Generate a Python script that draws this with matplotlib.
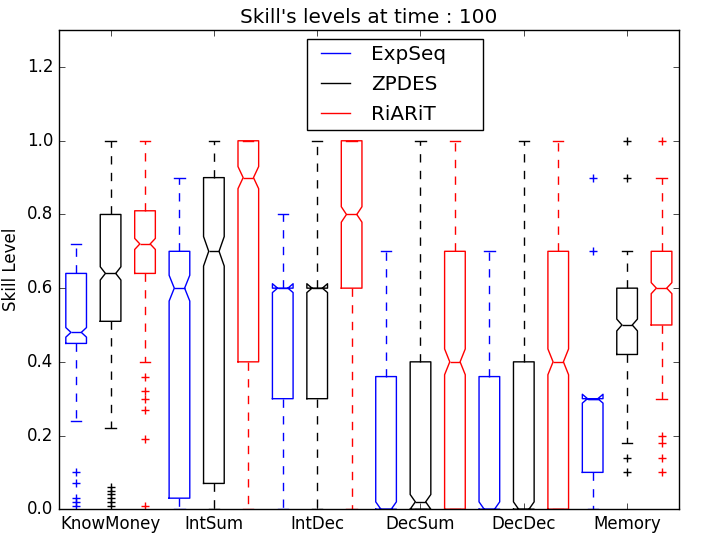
import matplotlib
matplotlib.use("Agg")
import matplotlib.pyplot as plt
from matplotlib.lines import Line2D
from matplotlib.legend_handler import HandlerLine2D

plt.style.use('classic')
plt.rcParams['figure.facecolor'] = 'white'
plt.rcParams['savefig.facecolor'] = 'white'
plt.rcParams['font.family'] = ['DejaVu Sans']

categories = ["KnowMoney", "IntSum", "IntDec", "DecSum", "DecDec", "Memory"]
series = ["ExpSeq", "ZPDES", "RiARiT"]
colors = ["b", "k", "r"]

# per series, per category: medians, quartiles, whiskers, notch bounds, fliers
med = {
    "ExpSeq": [0.48, 0.60, 0.60, 0.00, 0.00, 0.30],
    "ZPDES":  [0.64, 0.70, 0.60, 0.02, 0.00, 0.50],
    "RiARiT": [0.72, 0.90, 0.80, 0.40, 0.40, 0.60],
}
q1 = {
    "ExpSeq": [0.45, 0.03, 0.30, 0.00, 0.00, 0.10],
    "ZPDES":  [0.51, 0.07, 0.30, 0.00, 0.00, 0.42],
    "RiARiT": [0.64, 0.40, 0.60, 0.00, 0.00, 0.50],
}
q3 = {
    "ExpSeq": [0.64, 0.70, 0.60, 0.36, 0.36, 0.30],
    "ZPDES":  [0.80, 0.90, 0.60, 0.40, 0.40, 0.60],
    "RiARiT": [0.81, 1.00, 1.00, 0.70, 0.70, 0.70],
}
whislo = {
    "ExpSeq": [0.24, 0.00, 0.00, 0.00, 0.00, 0.00],
    "ZPDES":  [0.22, 0.00, 0.00, 0.00, 0.00, 0.18],
    "RiARiT": [0.40, 0.00, 0.00, 0.00, 0.00, 0.30],
}
whishi = {
    "ExpSeq": [0.72, 0.90, 0.80, 0.70, 0.70, 0.30],
    "ZPDES":  [1.00, 1.00, 1.00, 1.00, 1.00, 0.70],
    "RiARiT": [1.00, 1.00, 1.00, 1.00, 1.00, 0.90],
}
cilo = {
    "ExpSeq": [0.467, 0.565, 0.588, -0.02, -0.02, 0.288],
    "ZPDES":  [0.622, 0.660, 0.588, 0.00, -0.02, 0.484],
    "RiARiT": [0.705, 0.870, 0.779, 0.365, 0.365, 0.585],
}
cihi = {
    "ExpSeq": [0.493, 0.635, 0.612, 0.02, 0.02, 0.312],
    "ZPDES":  [0.658, 0.740, 0.612, 0.04, 0.02, 0.516],
    "RiARiT": [0.735, 0.930, 0.821, 0.435, 0.435, 0.615],
}
fliers = {
    "ExpSeq": [[0.10, 0.07, 0.03, 0.02, 0.01], [], [], [], [], [0.90, 0.70]],
    "ZPDES":  [[0.06, 0.05, 0.04, 0.03, 0.02, 0.01], [], [], [], [], [1.00, 0.90, 0.14, 0.10]],
    "RiARiT": [[0.36, 0.32, 0.30, 0.27, 0.19, 0.01], [], [], [], [], [1.00, 0.20, 0.18, 0.14, 0.10]],
}

fig = plt.figure(figsize=(7.1, 5.4), dpi=100)
ax = fig.add_axes([0.083, 0.057, 0.873, 0.887])

ns = len(series)
for si, (s, c) in enumerate(zip(series, colors)):
    stats = []
    positions = []
    for ci in range(len(categories)):
        stats.append(dict(med=med[s][ci], q1=q1[s][ci], q3=q3[s][ci],
                          whislo=whislo[s][ci], whishi=whishi[s][ci],
                          cilo=cilo[s][ci], cihi=cihi[s][ci],
                          fliers=fliers[s][ci]))
        positions.append(ci * ns + si + 1)
    ax.bxp(stats, positions=positions, widths=0.6, shownotches=True,
           boxprops=dict(color=c, linewidth=1),
           whiskerprops=dict(color=c, linestyle='--', linewidth=1),
           capprops=dict(color=c, linewidth=1),
           medianprops=dict(color=c, linewidth=1),
           flierprops=dict(marker='+', markeredgecolor=c, markerfacecolor='none',
                           markersize=6, linestyle='none'),
           manage_ticks=False)

ax.set_xlim(0.5, ns * len(categories) + 0.5)
ax.set_ylim(0, 1.3)
ax.set_xticks([ci * ns + 2 for ci in range(len(categories))])
ax.set_xticklabels(categories, fontsize=12)
ax.set_yticks([0.0, 0.2, 0.4, 0.6, 0.8, 1.0, 1.2])
ax.tick_params(labelsize=12)
ax.set_ylabel("Skill Level", fontsize=12)
ax.set_title("Skill's levels at time : 100", fontsize=14.4)

handles = [Line2D([], [], color=c, linewidth=1) for c in colors]
leg = ax.legend(handles, series, loc='upper left', mode='expand',
                bbox_to_anchor=(0.4, 0.981, 0.284, 0.0), borderaxespad=0,
                fontsize=14.4, handlelength=2.25, handletextpad=0.65,
                labelspacing=0.54, borderpad=0.3, fancybox=False, numpoints=2,
                handler_map={Line2D: HandlerLine2D(marker_pad=0.4, numpoints=2)})
leg.get_frame().set_linewidth(1)

fig.savefig("out.png", dpi=100)
